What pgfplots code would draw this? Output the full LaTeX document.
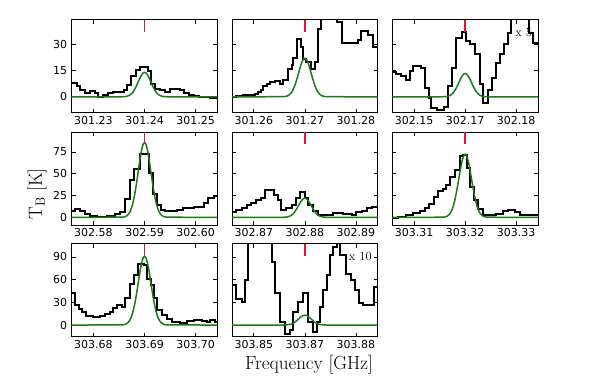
\documentclass[border=0pt]{standalone}
\usepackage{pgfplots}
\pgfplotsset{compat=1.18}
\usepackage{pgfplotstable}
\usepackage{fontspec}
\newfontfamily\tickfont{DejaVu Sans}

\definecolor{fitgreen}{RGB}{20,125,20}
\definecolor{linered}{RGB}{225,20,60}

% observed spectra, x = offset from line centre in MHz (step starts)
\pgfplotstableread{
x y
-15 8.0
-13.27 6.1
-12.61 3.8
-11.63 2.3
-10.65 3.4
-9.67 1.9
-9.02 0.0
-8.04 1.3
-7.06 2.3
-6.08 2.7
-4.12 3.8
-3.46 6.6
-2.61 11.8
-1.76 15.2
-0.85 17.1
0.6 15.0
1.24 7.6
2.09 4.7
3.07 3.8
4.05 2.8
5.03 4.2
6.01 4.7
6.99 3.8
7.65 1.9
8.63 0.9
9.61 0.4
10.59 0.0
11.57 -0.4
12.88 -0.8
15 -0.8
}\specA
\pgfplotstableread{
x y
-15 -0.4
-13.4 0.2
-12.1 1.0
-9.8 1.5
-9.15 2.9
-8.5 4.0
-8.2 6.0
-7.5 7.3
-6.9 8.7
-5.9 9.2
-4.9 7.3
-4.25 9.8
-3.3 16.0
-2.6 17.9
-2.3 22.1
-1.6 32.9
-0.85 28.5
-0.3 21.7
0.3 19.8
1.3 16.0
2.0 19.8
2.6 39.0
3.1 60
6.2 42.9
7.2 30.8
10.5 32.3
10.9 37.5
12.4 35.2
13.3 28.5
15 28.5
}\specB
\pgfplotstableread{
x y
-15 14.1
-13.5 13.2
-12.5 11.9
-11.6 9.6
-10.85 14.7
-10.2 17.6
-8.6 16.6
-7.9 5.2
-7.1 -0.6
-6.6 -6.3
-5.6 -7.8
-4.2 -5.9
-3.3 6.1
-2.5 16.6
-1.7 33.8
-0.7 37.1
0.13 31.9
0.9 30.0
1.9 24.3
2.9 7.1
3.5 -3.4
4.4 3.6
5.2 10.9
6.0 19.5
6.8 24.7
7.6 30.4
8.4 36.7
8.95 55
12.5 36.7
13.2 31.0
15 31.0
}\specC
\pgfplotstableread{
x y
-15 7.0
-13.6 10.1
-12.6 7.8
-11.6 3.9
-10.65 1.6
-9.35 0.8
-7.4 1.9
-5.8 3.9
-4.8 6.6
-3.9 21.4
-2.8 42.8
-2.0 55.2
-0.85 73.1
0.78 50.5
1.57 27.2
2.4 13.6
3.2 8.6
4.05 7.0
6.3 8.6
7.6 10.5
9.6 11.7
11.6 16.3
12.5 22.5
13.5 24.9
15 24.9
}\specD
\pgfplotstableread{
x y
-15 6.6
-13.4 8.6
-12.4 10.9
-11.4 13.6
-10.5 16.3
-9.5 19.4
-8.5 22.5
-7.8 31.9
-6.1 25.3
-5.2 19.4
-4.6 8.6
-3.6 10.9
-2.6 13.6
-1.8 22.5
-1.0 29.1
0.0 22.5
0.65 13.6
1.6 7.0
2.6 3.1
5.6 4.7
7.5 3.9
9.2 2.3
10.1 5.8
11.1 7.8
12.1 10.9
13.1 12.4
15 12.4
}\specE
\pgfplotstableread{
x y
-15 -0.8
-13.1 0.8
-11.5 2.3
-10.2 4.7
-8.9 7.0
-7.9 10.9
-7.1 15.5
-6.1 23.3
-5.3 30.3
-4.4 33.0
-3.7 36.9
-2.9 45.9
-2.0 54.4
-1.05 70.0
-0.4 71.9
0.4 56.4
0.9 35.0
1.7 19.4
2.5 9.7
3.5 3.1
4.8 2.3
6.1 3.9
7.45 7.0
8.4 8.9
9.7 5.8
10.7 3.1
12.0 2.7
15 2.7
}\specF
\pgfplotstableread{
x y
-15 43.0
-13.7 26.3
-12.9 21.1
-12.3 17.5
-11.4 11.8
-10.0 10.1
-8.7 11.8
-7.7 14.0
-6.7 16.7
-6.1 22.8
-5.3 26.3
-4.4 24.1
-3.8 35.1
-2.9 54.8
-2.0 66.7
-1.2 81.1
-0.2 78.9
0.46 61.4
1.24 53.5
1.76 35.1
2.4 19.7
3.4 13.2
4.4 7.9
5.4 3.5
7.0 2.2
8.3 5.3
9.6 6.6
11.2 5.3
12.2 3.5
12.9 6.6
13.7 4.4
15 4.4
}\specG
\pgfplotstableread{
x y
-15 52.6
-13.4 33.8
-12.4 30.7
-11.8 59.2
-11.1 130
-6.5 83.3
-5.9 41.7
-4.9 4.4
-3.9 -12.3
-2.9 -6.6
-2.3 17.5
-1.3 30.7
-0.3 42.5
0.65 4.4
1.6 -8.8
2.4 4.4
2.9 24.1
3.6 46.1
4.25 65.8
4.9 92.1
5.55 103
6.2 108
6.9 92.1
8.0 68.0
9.0 59.2
9.8 46.1
10.6 28.5
11.3 26.3
13.5 50.4
15 50.4
}\specH

% fitted line profiles, one column per panel
\pgfplotstableread{
x g1 g2 g3 g4 g5 g6 g7 g8
-15 0 0 0 0 0 0 0 0
-4.5 0.02 0.03 0.02 0.13 0.03 0.11 0.14 0.02
-4.25 0.04 0.07 0.04 0.27 0.07 0.22 0.28 0.04
-4.0 0.08 0.13 0.08 0.52 0.13 0.44 0.55 0.08
-3.75 0.16 0.24 0.15 0.95 0.24 0.80 1.01 0.14
-3.5 0.28 0.44 0.26 1.70 0.44 1.44 1.80 0.26
-3.25 0.48 0.75 0.45 2.92 0.75 2.47 3.09 0.44
-3.0 0.79 1.23 0.75 4.82 1.23 4.07 5.11 0.73
-2.75 1.24 1.96 1.18 7.65 1.96 6.45 8.09 1.16
-2.5 1.89 2.98 1.80 11.64 2.98 9.81 12.31 1.76
-2.25 2.77 4.35 2.63 17.02 4.35 14.35 18.01 2.57
-2.0 3.89 6.12 3.70 23.91 6.12 20.16 25.30 3.61
-1.75 5.25 8.26 4.99 32.28 8.26 27.21 34.15 4.88
-1.5 6.82 10.71 6.47 41.86 10.71 35.29 44.30 6.33
-1.25 8.49 13.34 8.07 52.16 13.34 43.97 55.19 7.88
-1.0 10.17 15.97 9.66 62.44 15.97 52.64 66.08 9.44
-0.75 11.69 18.38 11.11 71.84 18.38 60.56 76.01 10.86
-0.5 12.92 20.31 12.28 79.39 20.31 66.92 84.00 12.00
-0.25 13.72 21.56 13.04 84.30 21.56 71.06 89.20 12.74
0 14 22 13.3 86 22 72.5 91 13
0.25 13.72 21.56 13.04 84.30 21.56 71.06 89.20 12.74
0.5 12.92 20.31 12.28 79.39 20.31 66.92 84.00 12.00
0.75 11.69 18.38 11.11 71.84 18.38 60.56 76.01 10.86
1.0 10.17 15.97 9.66 62.44 15.97 52.64 66.08 9.44
1.25 8.49 13.34 8.07 52.16 13.34 43.97 55.19 7.88
1.5 6.82 10.71 6.47 41.86 10.71 35.29 44.30 6.33
1.75 5.25 8.26 4.99 32.28 8.26 27.21 34.15 4.88
2.0 3.89 6.12 3.70 23.91 6.12 20.16 25.30 3.61
2.25 2.77 4.35 2.63 17.02 4.35 14.35 18.01 2.57
2.5 1.89 2.98 1.80 11.64 2.98 9.81 12.31 1.76
2.75 1.24 1.96 1.18 7.65 1.96 6.45 8.09 1.16
3.0 0.79 1.23 0.75 4.82 1.23 4.07 5.11 0.73
3.25 0.48 0.75 0.45 2.92 0.75 2.47 3.09 0.44
3.5 0.28 0.44 0.26 1.70 0.44 1.44 1.80 0.26
3.75 0.16 0.24 0.15 0.95 0.24 0.80 1.01 0.14
4.0 0.08 0.13 0.08 0.52 0.13 0.44 0.55 0.08
4.25 0.04 0.07 0.04 0.27 0.07 0.22 0.28 0.04
4.5 0.02 0.03 0.02 0.13 0.03 0.11 0.14 0.02
15 0 0 0 0 0 0 0 0
}\gauss

\pgfplotsset{
  panel/.style={
    scale only axis, width=145.7pt, height=93pt,
    anchor=south west,
    xmin=-14.26, xmax=14.26,
    xtick={-10,0,10},
    tick align=inside, xtick pos=both, ytick pos=both,
    major tick length=4pt,
    tick style={black, line width=0.6pt},
    axis line style={line width=0.8pt},
    ticklabel style={font=\tickfont\fontsize{11}{13}\selectfont},
    /pgf/number format/assume math mode=true,
    yticklabel style={xshift=-1pt},
  },
  row1/.style={ymin=-9.1, ymax=44.1, ytick={0,15,30}},
  row2/.style={ymin=-8.8, ymax=98, ytick={0,25,50,75}},
  row3/.style={ymin=-15.4, ymax=107.5, ytick={0,30,60,90}},
  noy/.style={yticklabels={}},
  spec/.style={black, line width=2pt, const plot mark left, line join=miter},
  fit/.style={fitgreen, line width=1.5pt},
  restf/.style={linered, line width=1.8pt},
}
\tikzset{
  scl/.style={anchor=north east, inner sep=0pt, font=\fontsize{12.5}{14}\selectfont},
  lab/.style={font=\fontsize{19}{21}\selectfont\addfontfeature{LetterSpace=4}},
}

\begin{document}
\begin{tikzpicture}
\path[use as bounding box] (0,0) rectangle (598pt,377pt);

% row 1
\begin{axis}[panel,row1,at={(71.7pt,264.3pt)},xticklabels={301.23,301.24,301.25}]
\addplot[spec] table[x=x,y=y]{\specA};
\addplot[fit] table[x=x,y=g1]{\gauss};
\addplot[restf] coordinates {(0,44.1) (0,37.2)};
\end{axis}
\begin{axis}[panel,row1,noy,at={(232pt,264.3pt)},xticklabels={301.26,301.27,301.28}]
\addplot[spec] table[x=x,y=y]{\specB};
\addplot[fit] table[x=x,y=g2]{\gauss};
\addplot[restf] coordinates {(0,44.1) (0,37.2)};
\end{axis}
\begin{axis}[panel,row1,noy,at={(392.3pt,264.3pt)},xticklabels={302.15,302.17,302.18}]
\addplot[spec] table[x=x,y=y]{\specC};
\addplot[fit] table[x=x,y=g3]{\gauss};
\addplot[restf] coordinates {(0,44.1) (0,37.2)};
\node[scl] at (rel axis cs:0.96,0.91) {x 5};
\end{axis}

% row 2
\begin{axis}[panel,row2,at={(71.7pt,152pt)},xticklabels={302.58,302.59,302.60}]
\addplot[spec] table[x=x,y=y]{\specD};
\addplot[fit] table[x=x,y=g4]{\gauss};
\addplot[restf] coordinates {(0,98) (0,84.2)};
\end{axis}
\begin{axis}[panel,row2,noy,at={(232pt,152pt)},xticklabels={302.87,302.88,302.89}]
\addplot[spec] table[x=x,y=y]{\specE};
\addplot[fit] table[x=x,y=g5]{\gauss};
\addplot[restf] coordinates {(0,98) (0,84.2)};
\end{axis}
\begin{axis}[panel,row2,noy,at={(392.3pt,152pt)},xticklabels={303.31,303.32,303.33}]
\addplot[spec] table[x=x,y=y]{\specF};
\addplot[fit] table[x=x,y=g6]{\gauss};
\addplot[restf] coordinates {(0,98) (0,84.2)};
\end{axis}

% row 3
\begin{axis}[panel,row3,at={(71.7pt,40.3pt)},xticklabels={303.68,303.69,303.70}]
\addplot[spec] table[x=x,y=y]{\specG};
\addplot[fit] table[x=x,y=g7]{\gauss};
\addplot[restf] coordinates {(0,107.5) (0,91.6)};
\end{axis}
\begin{axis}[panel,row3,noy,at={(232pt,40.3pt)},xticklabels={303.85,303.87,303.88}]
\addplot[spec] table[x=x,y=y]{\specH};
\addplot[fit] table[x=x,y=g8]{\gauss};
\addplot[restf] coordinates {(0,107.5) (0,91.6)};
\node[scl] at (rel axis cs:0.96,0.91) {x 10};
\end{axis}

\node[anchor=base, lab] at (309pt,7.7pt) {Frequency [GHz]};
\node[rotate=90, lab] at (37pt,183pt) {$\mathrm{T}_\mathrm{B}$ [K]};
\end{tikzpicture}
\end{document}
